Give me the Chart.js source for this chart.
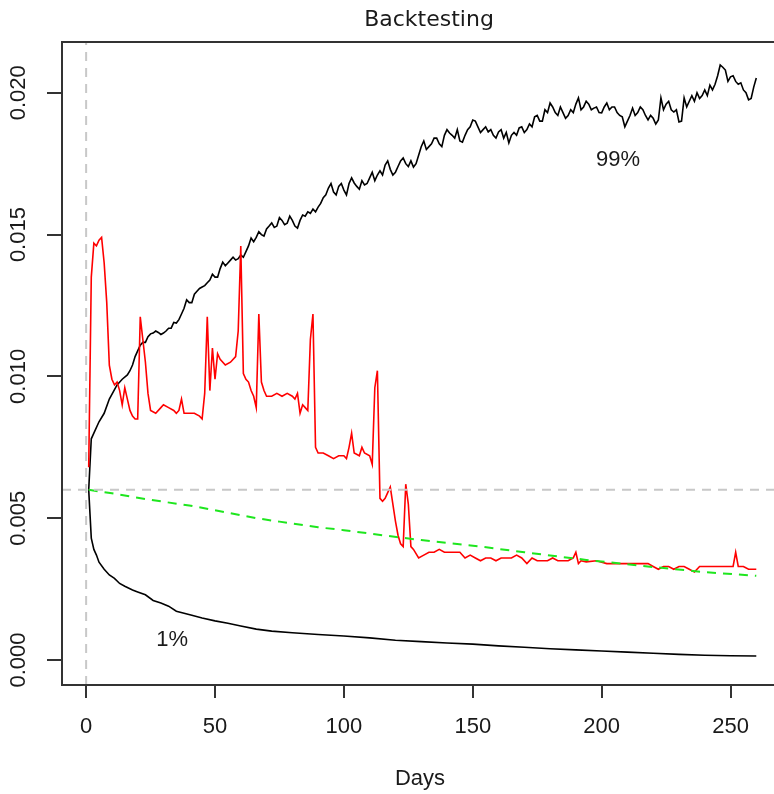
<!DOCTYPE html>
<html>
<head>
<meta charset="utf-8">
<title>Backtesting</title>
<script src="https://cdn.jsdelivr.net/npm/chart.js@4.4.0/dist/chart.umd.min.js"></script>
<style>
    body { margin: 0; background: #fff; overflow: hidden; }
    #wrap { width: 774px; height: 794px; overflow: hidden; }
</style>
</head>
<body>
<div id="wrap"><canvas id="backtest" width="790" height="794"></canvas></div>
<script>
// axis ticks
const xTicks = [0, 50, 100, 150, 200, 250];
const yTicks = [0, 0.005, 0.010, 0.015, 0.020];
const yLabels = ["0.000", "0.005", "0.010", "0.015", "0.020"];

// 99% quantile band
const upperDays = [1, 2, 3, 5, 7, 9, 12, 14,
    16, 17, 18, 19, 20, 21, 22, 23, 24, 25,
    26, 27, 28, 29, 30, 31, 32, 33, 34, 35,
    36, 37, 38, 39, 40, 41, 42, 43, 44, 45,
    46, 47, 48, 49, 50, 51, 52, 53, 54, 55,
    56, 57, 58, 59, 60, 61, 62, 63, 64, 65,
    66, 67, 68, 69, 70, 71, 72, 73, 74, 75,
    76, 77, 78, 79, 80, 81, 82, 83, 84, 85,
    86, 87, 88, 89, 90, 91, 92, 93, 94, 95,
    96, 97, 98, 99, 100, 101, 102, 103, 104, 105,
    106, 107, 108, 109, 110, 111, 112, 113, 114, 115,
    116, 117, 118, 119, 120, 121, 122, 123, 124, 125,
    126, 127, 128, 129, 130, 131, 132, 133, 134, 135,
    136, 137, 138, 139, 140, 141, 142, 143, 144, 145,
    146, 147, 148, 149, 150, 151, 152, 153, 154, 155,
    156, 157, 158, 159, 160, 161, 162, 163, 164, 165,
    166, 167, 168, 169, 170, 171, 172, 173, 174, 175,
    176, 177, 178, 179, 180, 181, 182, 183, 184, 185,
    186, 187, 188, 189, 190, 191, 192, 193, 194, 195,
    196, 197, 198, 199, 200, 201, 202, 203, 204, 205,
    206, 207, 208, 209, 210, 211, 212, 213, 214, 215,
    216, 217, 218, 219, 220, 221, 222, 223, 224, 225,
    226, 227, 228, 229, 230, 231, 232, 233, 234, 235,
    236, 237, 238, 239, 240, 241, 242, 243, 244, 245,
    246, 247, 248, 249, 250, 251, 252, 253, 254, 255,
    256, 257, 258, 259, 260];
const upperVals = [0.0060, 0.0078, 0.0080, 0.0084, 0.0087, 0.0092, 0.0097, 0.0099,
    0.01005, 0.0102, 0.0104, 0.0107, 0.0109, 0.0111, 0.0112, 0.0112, 0.0114, 0.0115,
    0.01153, 0.0116, 0.01155, 0.01148, 0.01153, 0.0116, 0.0117, 0.0117, 0.0119, 0.01188,
    0.0120, 0.0122, 0.0124, 0.0127, 0.0126, 0.0126, 0.0129, 0.0130, 0.0131, 0.01315,
    0.0132, 0.0133, 0.0134, 0.0136, 0.0135, 0.0135, 0.0138, 0.01403, 0.0139, 0.0140,
    0.0141, 0.0142, 0.0141, 0.01415, 0.01428, 0.0142, 0.0144, 0.0146, 0.01488, 0.01475,
    0.0149, 0.0151, 0.0150, 0.01495, 0.0152, 0.0153, 0.01541, 0.01525, 0.0153, 0.0156,
    0.0155, 0.01535, 0.0154, 0.01565, 0.0155, 0.0153, 0.01523, 0.0155, 0.01569, 0.01565,
    0.0158, 0.01575, 0.0159, 0.0158, 0.01597, 0.0161, 0.0163, 0.0164, 0.01664, 0.0168,
    0.0165, 0.0164, 0.0167, 0.0168, 0.01657, 0.0164, 0.0168, 0.0170, 0.01682, 0.0167,
    0.0166, 0.0169, 0.01675, 0.0168, 0.0170, 0.0172, 0.0169, 0.0171, 0.01725, 0.0171,
    0.01745, 0.0176, 0.0173, 0.0171, 0.0172, 0.0174, 0.0176, 0.0177, 0.0175, 0.0174,
    0.0176, 0.01738, 0.0175, 0.0178, 0.0181, 0.0183, 0.0180, 0.0181, 0.0182, 0.0184,
    0.0184, 0.0182, 0.0181, 0.0185, 0.0187, 0.01858, 0.0185, 0.0184, 0.0187, 0.0183,
    0.01826, 0.0185, 0.0187, 0.0188, 0.01904, 0.0190, 0.0188, 0.0186, 0.0187, 0.0188,
    0.01862, 0.0187, 0.0185, 0.0184, 0.01862, 0.0187, 0.0184, 0.0186, 0.01823, 0.0185,
    0.0186, 0.0185, 0.01876, 0.0188, 0.0186, 0.0187, 0.0189, 0.0188, 0.01915, 0.0192,
    0.0190, 0.0190, 0.0194, 0.0193, 0.01964, 0.0195, 0.0193, 0.0192, 0.0195, 0.0193,
    0.0191, 0.0192, 0.0194, 0.0193, 0.0196, 0.01982, 0.0194, 0.0195, 0.0197, 0.0196,
    0.0194, 0.01946, 0.0195, 0.0193, 0.01929, 0.0195, 0.01964, 0.0194, 0.0195, 0.0195,
    0.0193, 0.0192, 0.01915, 0.0188, 0.0190, 0.0192, 0.01946, 0.0192, 0.0193, 0.0195,
    0.0194, 0.0192, 0.01904, 0.0192, 0.0191, 0.0189, 0.01904, 0.01982, 0.0194, 0.0196,
    0.0197, 0.0194, 0.01932, 0.0194, 0.01897, 0.0190, 0.01982, 0.0195, 0.0197, 0.0199,
    0.0197, 0.0200, 0.0198, 0.0199, 0.0201, 0.0199, 0.02027, 0.0201, 0.0203, 0.0206,
    0.02098, 0.0209, 0.0208, 0.0204, 0.02056, 0.0206, 0.0204, 0.0203, 0.02035, 0.0201,
    0.0200, 0.01975, 0.0198, 0.0202, 0.02052];

// 1% quantile band
const lowerDays = [1, 2, 3, 4, 5, 7, 9, 11, 13, 15, 18, 20, 23, 26, 29, 32, 35, 38, 41, 45,
    50, 55, 60, 66, 72, 80, 90, 100, 110, 120, 130, 140, 150, 160, 170, 180, 190, 200, 210, 220,
    230, 240, 250, 260];
const lowerVals = [0.0060, 0.0043, 0.0039, 0.0037, 0.00345, 0.0032, 0.0030, 0.00288, 0.0027, 0.0026,
    0.00247, 0.0024, 0.0023, 0.0021, 0.00201, 0.0019, 0.00172, 0.00165, 0.00158, 0.00148,
    0.00138, 0.0013, 0.0012, 0.00109, 0.00102, 0.00096, 0.0009, 0.00085, 0.00078, 0.0007,
    0.00065, 0.0006, 0.00056, 0.0005, 0.00045, 0.0004, 0.00036, 0.00032, 0.00028, 0.00024,
    0.0002, 0.00017, 0.00015, 0.00014];

// realised series
const redDays = [1, 2, 3, 4, 5, 6, 7, 8, 9, 10, 11, 12, 13, 14, 15, 16, 17, 18, 19, 20,
    21, 22, 23, 24, 25, 27, 29, 30, 32, 34, 35, 36, 37, 38, 40, 42, 44, 45, 46, 47,
    48, 49, 50, 51, 52, 54, 56, 58, 59, 60, 61, 62, 63, 64, 65, 66, 67, 68, 69, 70,
    72, 74, 76, 78, 80, 81, 82, 83, 84, 85, 86, 87, 88, 89, 90, 92, 94, 96, 98, 100,
    101, 102, 103, 104, 106, 107, 108, 110, 111, 112, 113, 114, 115, 116, 117, 118, 119, 120, 121, 122,
    123, 124, 125, 126, 127, 129, 131, 133, 135, 137, 139, 141, 143, 145, 147, 149, 151, 153, 155, 157,
    159, 161, 163, 165, 167, 169, 171, 173, 175, 177, 179, 181, 183, 185, 187, 189, 190, 191, 192, 194,
    198, 202, 206, 210, 214, 218, 220, 222, 224, 226, 228, 230, 232, 234, 236, 238, 240, 243, 246, 249,
    251, 252, 253, 255, 257, 259, 260];
const redVals = [0.0068, 0.0135, 0.0147, 0.0146, 0.0148, 0.0149, 0.0140, 0.0126, 0.0104, 0.0099,
    0.0097, 0.0098, 0.0095, 0.0090, 0.0096, 0.0092, 0.0088, 0.0086, 0.0085, 0.0085,
    0.0121, 0.0113, 0.0105, 0.0094, 0.0088, 0.0087, 0.0089, 0.0090, 0.0089, 0.0088,
    0.0087, 0.0088, 0.0092, 0.0087, 0.0087, 0.0087, 0.0086, 0.0085, 0.0094, 0.0121,
    0.0095, 0.0110, 0.0099, 0.0108, 0.0106, 0.0104, 0.0105, 0.0107, 0.0116, 0.0146,
    0.0101, 0.0099, 0.0098, 0.0095, 0.0093, 0.0089, 0.0122, 0.0098, 0.0095, 0.0093,
    0.0093, 0.0094, 0.0093, 0.0094, 0.0093, 0.0092, 0.0094, 0.0087, 0.0090, 0.0089,
    0.0088, 0.0113, 0.0122, 0.0075, 0.0073, 0.0073, 0.0072, 0.0071, 0.0072, 0.0072,
    0.0071, 0.0075, 0.0080, 0.0073, 0.0072, 0.0075, 0.0073, 0.0072, 0.0069, 0.0096,
    0.0102, 0.0057, 0.0056, 0.0057, 0.0059, 0.0061, 0.0055, 0.0049, 0.0044, 0.0041,
    0.0040, 0.0062, 0.0055, 0.0040, 0.0039, 0.0036, 0.0037, 0.0038, 0.0038, 0.0039,
    0.0038, 0.0038, 0.0038, 0.0038, 0.0036, 0.0037, 0.0036, 0.0035, 0.0036, 0.0036,
    0.0035, 0.0036, 0.0036, 0.0036, 0.0037, 0.0036, 0.0034, 0.0036, 0.0035, 0.0035,
    0.0035, 0.0036, 0.0035, 0.0035, 0.0035, 0.0036, 0.0038, 0.0034, 0.0035, 0.00346,
    0.0035, 0.0034, 0.0034, 0.0034, 0.0034, 0.0034, 0.0033, 0.0032, 0.0033, 0.0033,
    0.0032, 0.0033, 0.0033, 0.0032, 0.0031, 0.0033, 0.0033, 0.0033, 0.0033, 0.0033,
    0.0033, 0.0038, 0.0033, 0.0033, 0.0032, 0.0032, 0.0032];

// expected level
const greenDays = [1, 10, 20, 30, 40, 50, 66, 75, 90, 100, 115, 130, 153, 170, 194, 220, 240, 260];
const greenVals = [0.0060, 0.00588, 0.00572, 0.00558, 0.00545, 0.00528, 0.0050, 0.00488, 0.00468, 0.00458,
    0.0044, 0.00423, 0.0040, 0.0038, 0.00353, 0.00328, 0.0031, 0.00297];

// reference lines and band labels
const refLevel = 0.006;
const refDay = 0;
const noteText = ["99%", "1%"];
const noteDay = [206.4, 33.4];
const noteVal = [0.01763, 0.0007];

const X_MIN = -9.36, X_MAX = 270.36;
const Y_MIN = -0.00088, Y_MAX = 0.02179;

function pairs(days, vals) {
    return days.map((d, i) => ({ x: d, y: vals[i] }));
}

function line(data, color, width, order, dash) {
    return {
        data: data,
        borderColor: color,
        borderWidth: width,
        borderDash: dash || [],
        pointRadius: 0,
        tension: 0,
        fill: false,
        order: order
    };
}

/* box, rotated y labels, title, axis name and band labels */
const frame = {
    id: 'frame',
    afterDraw(chart) {
        const { ctx, chartArea: a, scales: { x, y } } = chart;
        ctx.save();
        ctx.strokeStyle = '#333';
        ctx.lineWidth = 2;
        ctx.strokeRect(a.left, a.top, a.right - a.left, a.bottom - a.top);

        ctx.fillStyle = '#1a1a1a';
        ctx.textAlign = 'center';
        ctx.textBaseline = 'middle';
        ctx.font = '22px "Liberation Sans"';
        yTicks.forEach((v, i) => {
            ctx.save();
            ctx.translate(19, y.getPixelForValue(v));
            ctx.rotate(-Math.PI / 2);
            ctx.fillText(yLabels[i], 0, 0);
            ctx.restore();
        });

        ctx.fillText("Days", 420, 779);
        noteText.forEach((t, i) => {
            ctx.fillText(t, x.getPixelForValue(noteDay[i]), y.getPixelForValue(noteVal[i]));
        });

        ctx.font = '22px "DejaVu Sans"';
        ctx.fillText("Backtesting", 429, 20);
        ctx.restore();
    }
};

new Chart("backtest", {
    type: "line",
    data: {
        datasets: [
            line([{ x: X_MIN, y: refLevel }, { x: X_MAX, y: refLevel }], '#c8c8c8', 2, 0, [9, 7]),
            line([{ x: refDay, y: Y_MIN }, { x: refDay, y: Y_MAX }], '#c8c8c8', 2, 0, [9, 7]),
            line(pairs(greenDays, greenVals), '#1ee61e', 2, 1, [9, 7]),
            line(pairs(redDays, redVals), '#ff0000', 1.6, 2),
            line(pairs(upperDays, upperVals), '#000000', 1.6, 3),
            line(pairs(lowerDays, lowerVals), '#000000', 1.6, 3)
        ]
    },
    options: {
        responsive: false,
        animation: false,
        devicePixelRatio: 1,
        layout: { padding: { top: 42, right: 7, left: 0, bottom: 0 } },
        plugins: { legend: { display: false }, tooltip: { enabled: false } },
        scales: {
            x: {
                type: 'linear',
                min: X_MIN,
                max: X_MAX,
                afterBuildTicks: s => { s.ticks = xTicks.map(v => ({ value: v })); },
                afterFit: s => { s.height = 109; },
                ticks: {
                    autoSkip: false,
                    maxRotation: 0,
                    padding: 16,
                    color: '#1a1a1a',
                    font: { family: 'Liberation Sans', size: 22 }
                },
                grid: { drawOnChartArea: false, color: '#333', lineWidth: 2, tickLength: 13 },
                border: { display: false }
            },
            y: {
                type: 'linear',
                min: Y_MIN,
                max: Y_MAX,
                afterBuildTicks: s => { s.ticks = yTicks.map(v => ({ value: v })); },
                afterFit: s => { s.width = 62; },
                ticks: { display: false },
                grid: { drawOnChartArea: false, color: '#333', lineWidth: 2, tickLength: 15 },
                border: { display: false }
            }
        }
    },
    plugins: [frame]
});
</script>
</body>
</html>
